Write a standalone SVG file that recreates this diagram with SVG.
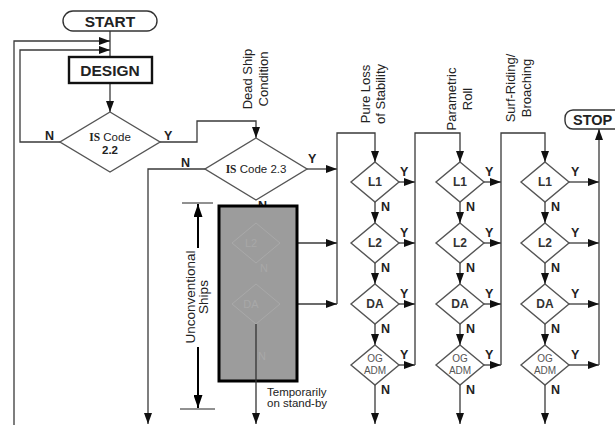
<svg xmlns="http://www.w3.org/2000/svg" width="615" height="425" viewBox="0 0 615 425">
<style>
.ln{fill:none;stroke:#3a3a3a;stroke-width:1.3}
.dm{fill:#fff;stroke:#555;stroke-width:1.4}
.t{font-family:"Liberation Sans",Arial,sans-serif;fill:#222}
.b{font-weight:bold}
.lab{font-family:"Liberation Sans",Arial,sans-serif;font-weight:bold;font-size:12.5px;fill:#222}
.dt{font-family:"Liberation Sans",Arial,sans-serif;font-weight:bold;font-size:12px;fill:#333;text-anchor:middle}
.og{font-family:"Liberation Sans",Arial,sans-serif;font-size:10px;fill:#555;text-anchor:middle}
.hd{font-family:"Liberation Sans",Arial,sans-serif;font-size:13px;fill:#222;text-anchor:middle}
.gh{fill:none;stroke:#a9a9a9;stroke-width:1}
.ght{font-family:"Liberation Sans",Arial,sans-serif;font-size:11px;fill:#a8a8a8;text-anchor:middle}
</style>
<defs>
<marker id="ah" markerUnits="userSpaceOnUse" markerWidth="11" markerHeight="8" refX="11" refY="4" orient="auto"><path d="M0,0 L11,4 L0,8 z" fill="#111"/></marker>
<marker id="dh" markerUnits="userSpaceOnUse" markerWidth="13" markerHeight="9" refX="13" refY="4.5" orient="auto"><path d="M0,0 L13,4.5 L0,9 z" fill="#000"/></marker>
</defs>
<rect width="615" height="425" fill="#fff"/>

<!-- headers -->
<g id="headers">
<text class="hd" transform="translate(252,79) rotate(-90)">Dead Ship</text>
<text class="hd" transform="translate(268,79) rotate(-90)">Condition</text>
<text class="hd" transform="translate(370,94) rotate(-90)">Pure Loss</text>
<text class="hd" transform="translate(385,94) rotate(-90)">of Stability</text>
<text class="hd" transform="translate(456,99) rotate(-90)">Parametric</text>
<text class="hd" transform="translate(472,99) rotate(-90)">Roll</text>
<text class="hd" transform="translate(515,88) rotate(-90)">Surf-Riding/</text>
<text class="hd" transform="translate(531,88) rotate(-90)">Broaching</text>
</g>

<g id="connectors">
<line class="ln" x1="110" y1="31" x2="110" y2="57"/>
<polyline class="ln" points="14,425 14,41 110,41" marker-end="url(#ah)"/>
<polyline class="ln" points="60,142 20,142 20,50 110,50" marker-end="url(#ah)"/>
<line class="ln" x1="110" y1="83" x2="110" y2="112" marker-end="url(#ah)"/>
<polyline class="ln" points="160,142 197,142 197,121 256,121 256,138" marker-end="url(#ah)"/>
<polyline class="ln" points="205,169 148,169 148,424" marker-end="url(#ah)"/>
<line class="ln" x1="307" y1="169" x2="337" y2="169" marker-end="url(#ah)"/>
<line class="ln" x1="297" y1="243" x2="337" y2="243" marker-end="url(#ah)"/>
<line class="ln" x1="297" y1="304" x2="337" y2="304" marker-end="url(#ah)"/>
<polyline class="ln" points="337,304 337,133 375,133 375,162" marker-end="url(#ah)"/>
<!-- column 1 -->
<line class="ln" x1="375" y1="202" x2="375" y2="223" marker-end="url(#ah)"/>
<line class="ln" x1="375" y1="263" x2="375" y2="284" marker-end="url(#ah)"/>
<line class="ln" x1="375" y1="324" x2="375" y2="345" marker-end="url(#ah)"/>
<line class="ln" x1="375" y1="385" x2="375" y2="424" marker-end="url(#ah)"/>
<line class="ln" x1="399" y1="182" x2="415" y2="182" marker-end="url(#ah)"/>
<line class="ln" x1="399" y1="243" x2="415" y2="243" marker-end="url(#ah)"/>
<line class="ln" x1="399" y1="304" x2="415" y2="304" marker-end="url(#ah)"/>
<line class="ln" x1="399" y1="365" x2="415" y2="365" marker-end="url(#ah)"/>
<polyline class="ln" points="415,365 415,133 460,133 460,162" marker-end="url(#ah)"/>
<!-- column 2 -->
<line class="ln" x1="460" y1="202" x2="460" y2="223" marker-end="url(#ah)"/>
<line class="ln" x1="460" y1="263" x2="460" y2="284" marker-end="url(#ah)"/>
<line class="ln" x1="460" y1="324" x2="460" y2="345" marker-end="url(#ah)"/>
<line class="ln" x1="460" y1="385" x2="460" y2="424" marker-end="url(#ah)"/>
<line class="ln" x1="484" y1="182" x2="501" y2="182" marker-end="url(#ah)"/>
<line class="ln" x1="484" y1="243" x2="501" y2="243" marker-end="url(#ah)"/>
<line class="ln" x1="484" y1="304" x2="501" y2="304" marker-end="url(#ah)"/>
<line class="ln" x1="484" y1="365" x2="501" y2="365" marker-end="url(#ah)"/>
<polyline class="ln" points="501,365 501,133 545,133 545,162" marker-end="url(#ah)"/>
<!-- column 3 -->
<line class="ln" x1="545" y1="202" x2="545" y2="223" marker-end="url(#ah)"/>
<line class="ln" x1="545" y1="263" x2="545" y2="284" marker-end="url(#ah)"/>
<line class="ln" x1="545" y1="324" x2="545" y2="345" marker-end="url(#ah)"/>
<line class="ln" x1="545" y1="385" x2="545" y2="424" marker-end="url(#ah)"/>
<line class="ln" x1="569" y1="182" x2="599" y2="182" marker-end="url(#ah)"/>
<line class="ln" x1="569" y1="243" x2="599" y2="243" marker-end="url(#ah)"/>
<line class="ln" x1="569" y1="304" x2="599" y2="304" marker-end="url(#ah)"/>
<line class="ln" x1="569" y1="365" x2="599" y2="365" marker-end="url(#ah)"/>
<polyline class="ln" points="599,365 599,129" marker-end="url(#ah)"/>
</g>

<g id="start">
<rect x="63" y="11" width="94" height="20" rx="10" fill="#fff" stroke="#333" stroke-width="1.4"/>
<text class="t b" x="110" y="27" font-size="15.5" text-anchor="middle">START</text>
</g>
<g id="design">
<rect x="69" y="57" width="83" height="26" fill="#fff" stroke="#111" stroke-width="2.4"/>
<text class="t b" x="110" y="76" font-size="15.5" text-anchor="middle">DESIGN</text>
</g>
<g id="is22">
<polygon class="dm" points="110,112 160,142 110,172 60,142"/>
<text class="t" x="110" y="141" font-size="11.5" text-anchor="middle"><tspan font-weight="bold" font-family="Liberation Serif,serif">IS</tspan> Code</text>
<text class="t b" x="110" y="154" font-size="11.5" text-anchor="middle">2.2</text>
<text class="lab" x="45" y="140">N</text>
<text class="lab" x="164" y="140">Y</text>
</g>
<g id="is23">
<polygon class="dm" points="256,138 307,169 256,200 205,169"/>
<text class="t" x="256" y="173" font-size="11.5" text-anchor="middle"><tspan font-weight="bold" font-family="Liberation Serif,serif">IS</tspan> Code 2.3</text>
<text class="lab" x="181" y="167">N</text>
<text class="lab" x="308" y="163">Y</text>
<text class="lab" x="258" y="210">N</text>
</g>

<g id="unconventional">
<rect x="219" y="206" width="78" height="175" fill="#9c9c9c" stroke="#000" stroke-width="3"/>
<polygon class="gh" points="256,223 280,243 256,263 232,243"/>
<polygon class="gh" points="256,284 280,304 256,324 232,304"/>
<text class="ght" x="251" y="247">L2</text>
<text class="ght" x="251" y="308">DA</text>
<text class="ght" x="264" y="272">N</text>
<text class="ght" x="262" y="360">N</text>
<line x1="256" y1="324" x2="256" y2="424" stroke="#333" stroke-width="1.3" marker-end="url(#ah)"/>
</g>

<g id="dimension">
<line x1="182" y1="203" x2="213" y2="203" stroke="#222" stroke-width="1"/>
<line x1="180" y1="409" x2="215" y2="409" stroke="#222" stroke-width="1"/>
<line x1="198" y1="248" x2="198" y2="204" stroke="#000" stroke-width="2" marker-end="url(#dh)"/>
<line x1="198" y1="347" x2="198" y2="408" stroke="#000" stroke-width="2" marker-end="url(#dh)"/>
<text class="t" font-size="13.5" text-anchor="middle" transform="translate(195,297) rotate(-90)">Unconventional</text>
<text class="t" font-size="13.5" text-anchor="middle" transform="translate(208,297) rotate(-90)">Ships</text>
<text class="t" x="267" y="396" font-size="11.5" fill="#444">Temporarily</text>
<text class="t" x="267" y="407" font-size="11.5" fill="#444">on stand-by</text>
</g>

<g id="col1">
<polygon class="dm" points="375,162 399,182 375,202 351,182"/>
<text class="dt" x="375" y="186">L1</text>
<polygon class="dm" points="375,223 399,243 375,263 351,243"/>
<text class="dt" x="375" y="247">L2</text>
<polygon class="dm" points="375,284 399,304 375,324 351,304"/>
<text class="dt" x="375" y="308">DA</text>
<polygon class="dm" points="375,345 399,365 375,385 351,365"/>
<text class="og" x="375" y="362">OG</text>
<text class="og" x="375" y="374">ADM</text>
<text class="lab" x="400" y="176">Y</text><text class="lab" x="381" y="211">N</text>
<text class="lab" x="400" y="237">Y</text><text class="lab" x="381" y="272">N</text>
<text class="lab" x="400" y="298">Y</text><text class="lab" x="381" y="333">N</text>
<text class="lab" x="400" y="359">Y</text><text class="lab" x="381" y="394">N</text>
</g>
<g id="col2">
<polygon class="dm" points="460,162 484,182 460,202 436,182"/>
<text class="dt" x="460" y="186">L1</text>
<polygon class="dm" points="460,223 484,243 460,263 436,243"/>
<text class="dt" x="460" y="247">L2</text>
<polygon class="dm" points="460,284 484,304 460,324 436,304"/>
<text class="dt" x="460" y="308">DA</text>
<polygon class="dm" points="460,345 484,365 460,385 436,365"/>
<text class="og" x="460" y="362">OG</text>
<text class="og" x="460" y="374">ADM</text>
<text class="lab" x="485" y="176">Y</text><text class="lab" x="466" y="211">N</text>
<text class="lab" x="485" y="237">Y</text><text class="lab" x="466" y="272">N</text>
<text class="lab" x="485" y="298">Y</text><text class="lab" x="466" y="333">N</text>
<text class="lab" x="485" y="359">Y</text><text class="lab" x="466" y="394">N</text>
</g>
<g id="col3">
<polygon class="dm" points="545,162 569,182 545,202 521,182"/>
<text class="dt" x="545" y="186">L1</text>
<polygon class="dm" points="545,223 569,243 545,263 521,243"/>
<text class="dt" x="545" y="247">L2</text>
<polygon class="dm" points="545,284 569,304 545,324 521,304"/>
<text class="dt" x="545" y="308">DA</text>
<polygon class="dm" points="545,345 569,365 545,385 521,365"/>
<text class="og" x="545" y="362">OG</text>
<text class="og" x="545" y="374">ADM</text>
<text class="lab" x="571" y="176">Y</text><text class="lab" x="551" y="211">N</text>
<text class="lab" x="571" y="237">Y</text><text class="lab" x="551" y="272">N</text>
<text class="lab" x="571" y="298">Y</text><text class="lab" x="551" y="333">N</text>
<text class="lab" x="571" y="359">Y</text><text class="lab" x="551" y="394">N</text>
</g>
<g id="stop">
<rect x="565" y="110" width="80" height="19" rx="8" fill="#fff" stroke="#333" stroke-width="1.4"/>
<text class="t b" x="573" y="125" font-size="14.5">STOP</text>
</g>
</svg>
